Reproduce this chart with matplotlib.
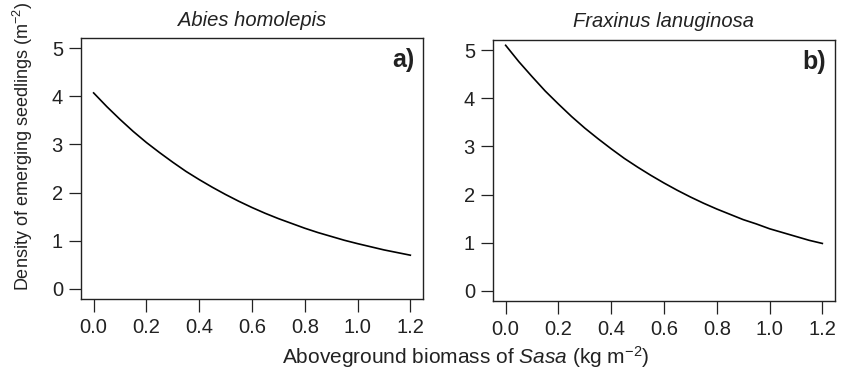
import matplotlib.pyplot as plt

# biomass of Sasa (kg m-2) and predicted seedling density
biomass = [0.0, 0.05, 0.1, 0.15, 0.2, 0.25, 0.3, 0.35, 0.4, 0.45, 0.5, 0.55, 0.6,
           0.65, 0.7, 0.75, 0.8, 0.85, 0.9, 0.95, 1.0, 1.05, 1.1, 1.15, 1.2]
abies = [4.07, 3.785, 3.52, 3.27, 3.04, 2.83, 2.63, 2.44, 2.27, 2.11, 1.96, 1.82, 1.69,
         1.57, 1.46, 1.36, 1.26, 1.17, 1.09, 1.01, 0.94, 0.875, 0.81, 0.755, 0.70]
fraxinus = [5.10, 4.76, 4.45, 4.15, 3.88, 3.62, 3.38, 3.16, 2.95, 2.75, 2.57, 2.40, 2.24,
            2.09, 1.95, 1.82, 1.70, 1.59, 1.48, 1.39, 1.29, 1.21, 1.13, 1.05, 0.985]

titles = ["Abies homolepis", "Fraxinus lanuginosa"]
panels = ["a)", "b)"]
xticks = [0.0, 0.2, 0.4, 0.6, 0.8, 1.0, 1.2]
yticks = [0, 1, 2, 3, 4, 5]

plt.rcParams['font.family'] = ['Liberation Sans', 'DejaVu Sans']
plt.rcParams['mathtext.fontset'] = 'custom'
plt.rcParams['mathtext.rm'] = 'Liberation Sans'
plt.rcParams['mathtext.it'] = 'Liberation Sans:italic'
fs = 14.5
dark = '#222222'

fig = plt.figure(figsize=(8.46, 3.72), dpi=100)
ax_a = fig.add_axes([0.0957, 0.1962, 0.4043, 0.7016])
ax_b = fig.add_axes([0.5827, 0.1909, 0.4043, 0.7016])

for ax, ys, ttl, lab in zip([ax_a, ax_b], [abies, fraxinus], titles, panels):
    ax.plot(biomass, ys, color='black', lw=1.2)
    ax.set_xlim(-0.048, 1.248)
    ax.set_ylim(-0.21, 5.21)
    ax.set_xticks(xticks)
    ax.set_xticklabels(["%.1f" % t for t in xticks])
    ax.set_yticks(yticks)
    ax.tick_params(direction='out', length=9, width=0.9, colors=dark,
                   labelsize=fs)
    ax.tick_params(axis='x', pad=5)
    ax.tick_params(axis='y', pad=4)
    for s in ax.spines.values():
        s.set_color(dark)
        s.set_linewidth(1.0)
    ax.set_title(ttl, style='italic', fontsize=fs, color=dark, pad=9)
    ax.text(0.975, 0.915, lab, transform=ax.transAxes, ha='right', va='center',
            fontsize=18, fontweight='bold', color=dark)

fig.text(0.027, 0.607, 'Density of emerging seedlings (m$^{-2}$)', rotation=90,
         ha='center', va='center', fontsize=13, color=dark)
fig.text(0.55, 0.04, 'Aboveground biomass of $\\it{Sasa}$ (kg m$^{-2}$)',
         ha='center', va='center', fontsize=15, color=dark)

fig.savefig('out.png', dpi=100)
